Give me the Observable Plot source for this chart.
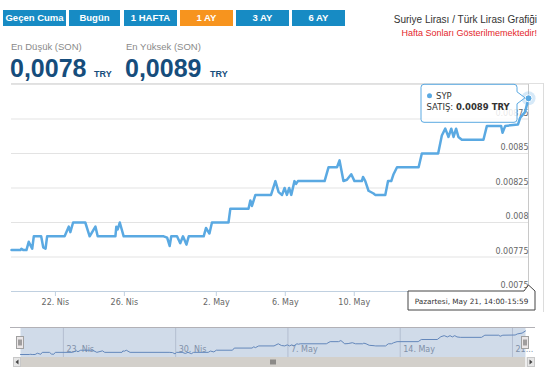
<!DOCTYPE html>
<html>
<head>
<meta charset="utf-8">
<script src="https://cdn.jsdelivr.net/npm/d3@7"></script>
<script src="https://cdn.jsdelivr.net/npm/@observablehq/plot@0.6"></script>
<style>
  html, body { margin: 0; padding: 0; background: #fff; overflow: hidden; }
  #wrap { position: relative; width: 550px; height: 381px; background: #fff; font-family: "Liberation Sans", Arial, sans-serif; }
  #wrap > * { position: absolute; }
  .btn { top: 10px; height: 16px; line-height: 16px; background: #178bc4; color: #fff; font-weight: bold; font-size: 9.5px; text-align: center; white-space: nowrap; }
  .btn.on { background: #f7941e; }
  .lbl { font-size: 9.5px; line-height: 9.5px; color: #8a8a8a; white-space: nowrap; }
  .big { font-size: 25px; line-height: 25px; font-weight: bold; color: #164d7c; white-space: nowrap; }
  .cur { font-size: 9px; line-height: 9px; font-weight: bold; color: #164d7c; }
</style>
</head>
<body>
<div id="wrap"></div>
<script>
// ---- data (trading days, 0 = 23 Apr 00:00; weekends removed) ----
const days = [-1.91,-1.52,-1.48,-1.39,-1.26,-1.16,-1.01,-0.94,-0.62,-0.53,-0.43,-0.36,0.40,0.58,0.65,0.77,1.30,1.49,1.74,1.84,
  2.61,2.65,2.71,2.80,2.97,4.71,4.86,4.97,5.04,5.29,5.43,5.55,5.70,5.80,6.45,6.55,6.70,6.81,7.53,7.61,
  8.40,8.48,8.55,8.70,9.38,9.57,9.71,9.86,9.97,10.07,10.17,10.26,10.40,10.47,10.55,11.71,11.88,12.25,12.36,12.53,
  12.68,12.87,13.01,13.33,13.38,13.48,13.62,13.84,13.91,14.35,14.47,14.61,14.71,14.86,15.80,15.94,16.65,16.81,16.96,17.10,
  17.22,17.32,17.43,17.53,17.68,18.62,18.77,19.39,19.45,19.57,20.12,20.22,20.43,20.58];
const rate = [0.0078,0.0078,0.00781,0.0078,0.0078,0.00786,0.00781,0.0079,0.0079,0.00782,0.00781,0.0079,0.0079,0.00797,0.00793,0.008,0.008,0.0079,0.00797,0.0079,
  0.0079,0.00797,0.00795,0.008,0.0079,0.0079,0.00789,0.00783,0.0079,0.0079,0.00785,0.0079,0.00784,0.0079,0.0079,0.00796,0.00792,0.008,0.008,0.0081,
  0.0081,0.00816,0.00812,0.0082,0.0082,0.0083,0.00822,0.0082,0.00825,0.0082,0.00825,0.0082,0.0083,0.00828,0.0083,0.0083,0.0084,0.0084,0.00845,0.0083,
  0.00831,0.00835,0.0083,0.0083,0.00833,0.0083,0.00823,0.00821,0.0082,0.0082,0.0083,0.0083,0.00835,0.0084,0.0084,0.0085,0.0085,0.00863,0.00868,0.00862,
  0.00868,0.00862,0.00868,0.00862,0.0086,0.0086,0.0087,0.0087,0.00865,0.0087,0.00871,0.00876,0.0088,0.0089];
const yTicks = [0.0075, 0.00775, 0.008, 0.00825, 0.0085, 0.00875];
const yTickLabels = ["0.0075", "0.00775", "0.008", "0.00825", "0.0085", "0.00875"];
const yGrid = [0.0075, 0.00775, 0.008, 0.00825, 0.0085, 0.00875, 0.009];
const xTickDays = [0, 3, 7, 10, 13];
const xTickLabels = ["22. Nis", "26. Nis", "2. May", "6. May", "10. May"];
const navTickDays = [0, 5, 10, 15, 20];
const navTickLabels = ["23. Nis", "30. Nis", "7. May", "14. May", "21..."];
const buttons = ["Geçen Cuma", "Bugün", "1 HAFTA", "1 AY", "3 AY", "6 AY"];
const activeButton = "1 AY";
const lowValue = "0,0078", highValue = "0,0089";
const seriesName = "SYP", tipLabel = "SATIŞ: ", tipValue = "0.0089 TRY";
const crossLabel = "Pazartesi, May 21, 14:00-15:59";

const LINE = "#5aa9e2";
const wrap = document.getElementById("wrap");

// ---- main chart ----
const main = Plot.plot({
  width: 550, height: 312,
  marginTop: 84, marginBottom: 21, marginLeft: 11, marginRight: 22,
  x: {domain: [days[0], days[days.length - 1]]},
  y: {domain: [0.0075, 0.009], axis: null},
  style: {fontFamily: "'DejaVu Sans', Verdana, sans-serif", fontSize: "8px", background: "transparent"},
  marks: [
    Plot.ruleY(yGrid, {stroke: "#e3e3e3"}),
    Plot.ruleX([days[days.length - 1]], {stroke: "#c8c8c8"}),
    Plot.ruleY([0.0075], {stroke: "#c0d0e0"}),
    Plot.text(yTicks, {x: days[days.length - 1], y: d => d, text: (d, i) => yTickLabels[i], textAnchor: "end", dy: -6, fill: "#666", fontSize: 8}),
    Plot.axisX({ticks: xTickDays, tickFormat: d => xTickLabels[xTickDays.indexOf(d)], tickSize: 5, tickPadding: 3, stroke: "#c0d0e0", fill: "#666", fontSize: 8}),
    Plot.line(rate, {x: days, y: rate, stroke: LINE, strokeWidth: 2.5, strokeLinejoin: "round", strokeLinecap: "round"}),
    Plot.dot([rate.length - 1], {x: i => days[i], y: i => rate[i], r: 7, fill: LINE, fillOpacity: 0.25}),
    Plot.dot([rate.length - 1], {x: i => days[i], y: i => rate[i], r: 3.5, fill: LINE, stroke: "#fff", strokeWidth: 1})
  ]
});
main.style.left = "0px"; main.style.top = "0px";
wrap.appendChild(main);

// ---- navigator ----
const nav = Plot.plot({
  width: 550, height: 30,
  marginTop: 0, marginBottom: 0, marginLeft: 20, marginRight: 25,
  x: {domain: [days[0], days[days.length - 1]], axis: null},
  y: {domain: [0.00766, 0.00906], axis: null},
  style: {fontFamily: "'DejaVu Sans', Verdana, sans-serif", fontSize: "8px", background: "transparent"},
  marks: [
    Plot.frame({fill: "#d0dbe9", stroke: null}),
    Plot.ruleX(navTickDays, {stroke: "#b3bed0"}),
    Plot.text(navTickDays, {x: d => d, text: (d, i) => navTickLabels[i], frameAnchor: "bottom", dy: -6, dx: 3, textAnchor: "start", fill: "#8090a8", fontSize: 8}),
    Plot.line(rate, {x: days, y: rate, stroke: "#6387bb", strokeWidth: 1})
  ]
});
nav.style.left = "0px"; nav.style.top = "327px";
wrap.appendChild(nav);

// ---- header ----
const btnLeft = [3, 69, 124, 180, 236, 292], btnW = [63, 51, 53, 53, 53, 53];
buttons.forEach((b, i) => {
  const d = document.createElement("div");
  d.className = "btn" + (b === activeButton ? " on" : "");
  d.style.left = btnLeft[i] + "px"; d.style.width = btnW[i] + "px";
  d.textContent = b; wrap.appendChild(d);
});
function addText(cls, txt, left, top, extra) {
  const d = document.createElement("div");
  d.className = cls; d.textContent = txt;
  d.style.left = left + "px"; d.style.top = top + "px";
  if (extra) Object.assign(d.style, extra);
  wrap.appendChild(d); return d;
}
addText("lbl", "Suriye Lirası / Türk Lirası Grafiği", 0, 15, {left: "auto", right: "13px", fontSize: "10px", lineHeight: "10px", color: "#333"});
addText("lbl", "Hafta Sonları Gösterilmemektedir!", 0, 28.5, {left: "auto", right: "13px", fontSize: "9px", lineHeight: "9px", color: "#e4252b"});
addText("lbl", "En Düşük (SON)", 11, 41.5);
addText("lbl", "En Yüksek (SON)", 126, 41.5);
addText("big", lowValue, 10, 56);
addText("cur", "TRY", 94, 69.5);
addText("big", highValue, 125, 56);
addText("cur", "TRY", 210, 69.5);

// ---- overlay (tooltips, navigator chrome) ----
function scaleFn(s) { return s.apply ? (v => s.apply(v)) : d3.scaleLinear(s.domain, s.range); }
const sx = scaleFn(main.scale("x")), sy = scaleFn(main.scale("y"));
const nx = scaleFn(nav.scale("x"));
const px = sx(days[days.length - 1]), py = sy(rate[rate.length - 1]);
const baseY = sy(0.0075), topY = sy(0.009);

const ov = d3.create("svg").attr("width", 550).attr("height", 381)
  .style("left", "0px").style("top", "0px").style("pointer-events", "none")
  .style("font-family", "'DejaVu Sans', Verdana, sans-serif");

// container border
ov.append("line").attr("x1", 11).attr("x2", 543.5).attr("y1", topY - 0.5).attr("y2", topY - 0.5).attr("stroke", "#e0e0e0");
ov.append("line").attr("x1", 543.5).attr("x2", 543.5).attr("y1", topY - 1).attr("y2", 312).attr("stroke", "#dcdcdc");

// series tooltip
const L = px - 107, R = px - 11, T = py - 13.5, B = py + 24.5;
ov.append("path")
  .attr("d", `M${L + 3},${T} H${R - 3} Q${R},${T} ${R},${T + 3} V${py - 6} L${px - 3},${py} L${R},${py + 6} V${B - 3} Q${R},${B} ${R - 3},${B} H${L + 3} Q${L},${B} ${L},${B - 3} V${T + 3} Q${L},${T} ${L + 3},${T} Z`)
  .attr("fill", "rgba(255,255,255,0.85)").attr("stroke", LINE).attr("stroke-width", 1);
ov.append("circle").attr("cx", L + 8.5).attr("cy", T + 11.5).attr("r", 2.5).attr("fill", LINE);
ov.append("text").attr("x", L + 15).attr("y", T + 14.5).attr("font-size", 8.5).attr("fill", "#333").text(seriesName);
const t2 = ov.append("text").attr("x", L + 5.5).attr("y", T + 25.5).attr("font-size", 8.5).attr("fill", "#333");
t2.append("tspan").text(tipLabel);
t2.append("tspan").attr("font-weight", "bold").text(tipValue);

// crosshair x label
const cT = baseY - 1, cB = cT + 20, cR = px + 7, cL = cR - 127;
ov.append("path")
  .attr("d", `M${cL},${cT + 1} H${px - 4} L${px + 0.5},${baseY - 6} L${cR},${cT + 1} V${cB} H${cL} Z`)
  .attr("fill", "#fff").attr("stroke", "#444").attr("stroke-width", 1);
ov.append("text").attr("x", (cL + cR) / 2).attr("y", cT + 13.5).attr("text-anchor", "middle")
  .attr("font-size", 7.3).attr("fill", "#333").text(crossLabel);

// navigator chrome
const nL = nx(days[0]), nR = nx(days[days.length - 1]);
ov.append("line").attr("x1", 10).attr("x2", 535).attr("y1", 327.5).attr("y2", 327.5).attr("stroke", "#b2b1b6");
[nL, nR].forEach(hx => {
  ov.append("rect").attr("x", hx - 3.5).attr("y", 336.5).attr("width", 7).attr("height", 12)
    .attr("fill", "#ebe7e8").attr("stroke", "#a0a0a0");
  ov.append("line").attr("x1", hx - 1).attr("x2", hx - 1).attr("y1", 339.5).attr("y2", 345.5).attr("stroke", "#555");
  ov.append("line").attr("x1", hx + 1).attr("x2", hx + 1).attr("y1", 339.5).attr("y2", 345.5).attr("stroke", "#555");
});
// scrollbar
ov.append("rect").attr("x", 13).attr("y", 357).attr("width", 522).attr("height", 10).attr("fill", "#eeeeee");
ov.append("rect").attr("x", nL).attr("y", 357).attr("width", nR - nL).attr("height", 10).attr("fill", "#d3d0cb");
ov.append("rect").attr("x", 13.5).attr("y", 357.5).attr("width", 7).attr("height", 9).attr("fill", "#e6e6e6").attr("stroke", "#c8c8c8");
ov.append("rect").attr("x", 527.5).attr("y", 357.5).attr("width", 7).attr("height", 9).attr("fill", "#e6e6e6").attr("stroke", "#c8c8c8");
ov.append("path").attr("d", "M15.5,362 L18.5,359.5 L18.5,364.5 Z").attr("fill", "#444");
ov.append("path").attr("d", "M532.5,362 L529.5,359.5 L529.5,364.5 Z").attr("fill", "#444");
const gx = (nL + nR) / 2;
[-2, 0, 2].forEach(o => ov.append("line").attr("x1", gx + o + 0.5).attr("x2", gx + o + 0.5).attr("y1", 359.5).attr("y2", 364.5).attr("stroke", "#444"));

wrap.appendChild(ov.node());
</script>
</body>
</html>
